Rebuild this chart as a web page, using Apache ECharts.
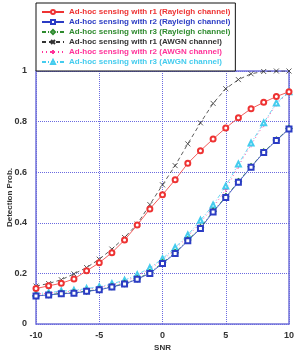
<!DOCTYPE html>
<html>
<head>
<meta charset="utf-8">
<script src="https://cdn.jsdelivr.net/npm/echarts@6/dist/echarts.min.js"></script>
<style>
  html, body { margin: 0; padding: 0; background: #fff; }
  #chart { width: 294px; height: 352px; }
</style>
</head>
<body>
<div id="chart"></div>
<script>
const snr = [-10, -9, -8, -7, -6, -5, -4, -3, -2, -1, 0, 1, 2, 3, 4, 5, 6, 7, 8, 9, 10]
const yTicks = [0, 0.2, 0.4, 0.6, 0.8, 1]

const r1Ray = [0.14, 0.151, 0.161, 0.178, 0.21, 0.242, 0.282, 0.332, 0.391, 0.455, 0.511, 0.57, 0.635, 0.685, 0.731, 0.775, 0.815, 0.851, 0.876, 0.899, 0.918]
const r2Ray = [0.111, 0.115, 0.12, 0.122, 0.129, 0.135, 0.146, 0.158, 0.177, 0.2, 0.239, 0.279, 0.329, 0.377, 0.443, 0.5, 0.56, 0.62, 0.678, 0.725, 0.771]
const r3Ray = [0.112, 0.116, 0.121, 0.124, 0.13, 0.137, 0.148, 0.16, 0.179, 0.203, 0.242, 0.282, 0.332, 0.381, 0.446, 0.503, 0.563, 0.622, 0.68, 0.727, 0.773]
const r1Awgn = [0.15, 0.16, 0.175, 0.198, 0.223, 0.256, 0.296, 0.342, 0.395, 0.472, 0.55, 0.626, 0.712, 0.795, 0.872, 0.93, 0.966, 0.989, 0.998, 1, 1]
const r2Awgn = [0.118, 0.122, 0.127, 0.13, 0.137, 0.144, 0.155, 0.168, 0.19, 0.217, 0.252, 0.296, 0.345, 0.402, 0.46, 0.532, 0.624, 0.708, 0.788, 0.87, 0.916]
const r3Awgn = [0.12, 0.124, 0.13, 0.133, 0.14, 0.147, 0.159, 0.173, 0.195, 0.222, 0.258, 0.302, 0.352, 0.41, 0.47, 0.545, 0.632, 0.715, 0.795, 0.874, 0.918]

const names = [
  'Ad-hoc sensing with r1 (Rayleigh channel)',
  'Ad-hoc sensing with r2 (Rayleigh channel)',
  'Ad-hoc sensing with r3 (Rayleigh channel)',
  'Ad-hoc sensing with r1 (AWGN channel)',
  'Ad-hoc sensing with r2 (AWGN channel)',
  'Ad-hoc sensing with r3 (AWGN channel)'
]
const colors = ['#ee3333', '#2b3cc4', '#2e8b2e', '#333333', '#ff3399', '#44ccee']

const crossPath = 'path://M0,0L10,10M10,0L0,10'
const plusPath = 'path://M5,0L5,10M0,5L10,5'

const toPairs = (ys) => snr.map((x, i) => [x, ys[i]])

const makeSeries = (idx, ys, symbol, lineType, z) => ({
  name: names[idx],
  type: 'line',
  data: toPairs(ys),
  symbol: symbol,
  symbolSize: 5,
  showSymbol: true,
  z: z,
  lineStyle: { color: colors[idx], width: 0.8, type: lineType },
  itemStyle: { color: colors[idx], borderColor: colors[idx], borderWidth: 0.8 },
  emphasis: { disabled: true }
})

const chart = echarts.init(document.getElementById('chart'), undefined, { renderer: 'canvas' })

const option = {
  animation: false,
  backgroundColor: '#fff',
  textStyle: { fontFamily: 'Liberation Sans, Arial, sans-serif' },
  grid: {
    left: 36,
    right: 5,
    top: 71,
    bottom: 28,
    outerBoundsMode: 'none',
    containLabel: false,
    show: true,
    borderColor: '#7474d8',
    borderWidth: 1.5,
    backgroundColor: 'transparent'
  },
  legend: {
    orient: 'vertical',
    left: 36,
    top: 3,
    padding: [4, 5, 4, 5],
    itemWidth: 22,
    itemHeight: 5,
    itemGap: 0,
    backgroundColor: '#fff',
    borderColor: '#111',
    borderWidth: 1,
    borderRadius: 0,
    selectedMode: false,
    z: 10,
    textStyle: { fontSize: 8, lineHeight: 10, height: 10, fontWeight: 'bold', fontFamily: 'Liberation Sans, Arial, sans-serif' },
    data: names.map((n, i) => ({ name: n, textStyle: { color: colors[i] } }))
  },
  xAxis: {
    type: 'value',
    min: -10,
    max: 10,
    interval: 5,
    name: 'SNR',
    nameLocation: 'middle',
    nameGap: 20,
    nameMoveOverlap: false,
    nameTextStyle: { fontSize: 8, fontWeight: 'bold', color: '#333' },
    axisLine: { show: false },
    axisTick: { show: false },
    axisLabel: { fontSize: 9, fontWeight: 'bold', color: '#333', margin: 7, showMinLabel: true, showMaxLabel: true },
    splitLine: { show: true, lineStyle: { color: '#6a6ae0', type: 'dotted', width: 1 } }
  },
  yAxis: {
    type: 'value',
    min: yTicks[0],
    max: yTicks[yTicks.length - 1],
    interval: 0.2,
    name: 'Detection Prob.',
    nameLocation: 'middle',
    nameGap: 22,
    nameMoveOverlap: false,
    nameTextStyle: { fontSize: 8, fontWeight: 'bold', color: '#333' },
    axisLine: { show: false },
    axisTick: { show: false },
    axisLabel: { fontSize: 9, fontWeight: 'bold', color: '#333', margin: 9, showMinLabel: true, showMaxLabel: true },
    splitLine: { show: true, lineStyle: { color: '#6a6ae0', type: 'dotted', width: 1 } }
  },
  series: [
    makeSeries(3, r1Awgn, crossPath, [4, 3], 2),
    makeSeries(4, r2Awgn, plusPath, [1, 3], 2),
    makeSeries(5, r3Awgn, 'emptyTriangle', [4, 2, 1, 2], 2),
    makeSeries(0, r1Ray, 'emptyCircle', 'solid', 3),
    makeSeries(2, r3Ray, 'emptyDiamond', [4, 2, 1, 2], 3),
    makeSeries(1, r2Ray, 'emptyRect', 'solid', 4)
  ]
}

chart.setOption(option)
</script>
</body>
</html>
